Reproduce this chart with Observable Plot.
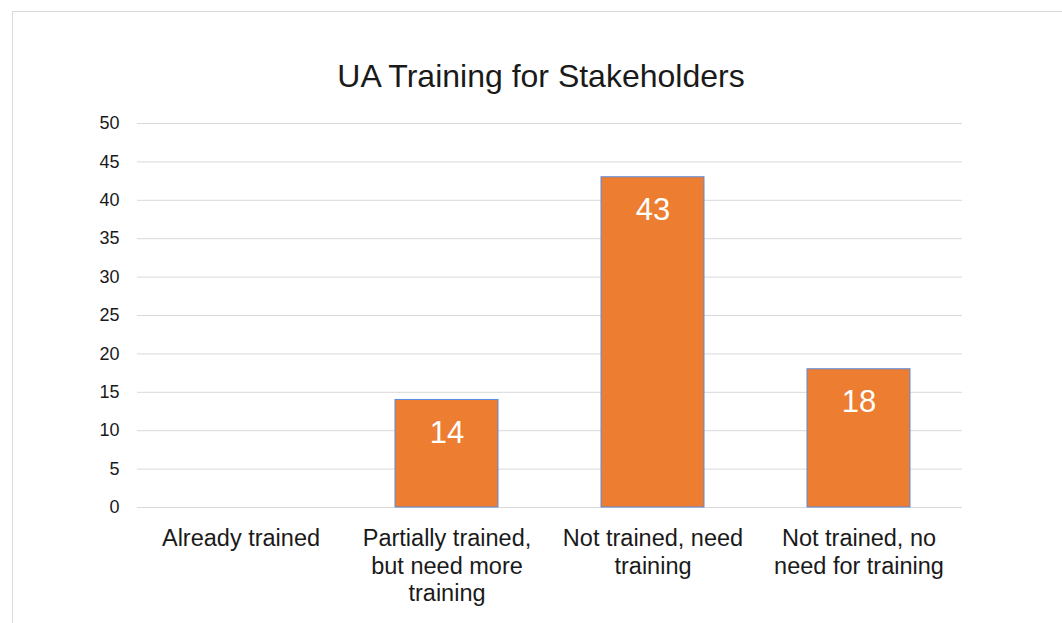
<!DOCTYPE html>
<html>
<head>
<meta charset="utf-8">
<script src="https://cdn.jsdelivr.net/npm/d3@7"></script>
<script src="https://cdn.jsdelivr.net/npm/@observablehq/plot@0.6"></script>
<style>
  html, body { margin: 0; padding: 0; background: #fff; overflow: hidden; }
  body { width: 1062px; height: 623px; position: relative; font-family: "Liberation Sans", Arial, sans-serif; }
  #frame { position: absolute; left: 12px; top: 11px; width: 1100px; height: 700px; border: 1px solid #d9d9d9; box-sizing: border-box; }
  #title { position: absolute; left: 0; width: 1082px; top: 58px; text-align: center; font-size: 32px; line-height: 1.15; color: #1a1a1a; }
  #chart { position: absolute; left: 0; top: 0; }
</style>
</head>
<body>
<div id="frame"></div>
<div id="title">UA Training for Stakeholders</div>
<div id="chart"></div>
<script>
const title = "UA Training for Stakeholders";
const categories = ["Already trained", "Partially trained", "Not trained, need training", "Not trained, no need"];
const tickLabels = ["Already trained", "Partially trained,\nbut need more\ntraining", "Not trained, need\ntraining", "Not trained, no\nneed for training"];
const values = [0, 14, 43, 18];
const yTicks = [0, 5, 10, 15, 20, 25, 30, 35, 40, 45, 50];

document.getElementById("title").textContent = title;
const data = categories.map((c, i) => ({category: c, value: values[i]}));
const labelMap = new Map(categories.map((c, i) => [c, tickLabels[i]]));

const chart = Plot.plot({
  width: 1062,
  height: 623,
  marginLeft: 137,
  marginRight: 100,
  marginTop: 123,
  marginBottom: 116,
  style: {fontFamily: "'Liberation Sans', Arial, sans-serif", background: "transparent", color: "#1a1a1a"},
  x: {domain: categories, paddingInner: 0.5, paddingOuter: 0.25},
  y: {domain: [0, 50]},
  marks: [
    Plot.gridY(yTicks, {stroke: "#d9d9d9", strokeOpacity: 1, strokeWidth: 1}),
    Plot.axisY({ticks: yTicks, tickSize: 0, tickPadding: 18, fontSize: 18, label: null, fill: "#1a1a1a"}),
    Plot.axisX({tickSize: 0, tickPadding: 19, fontSize: 23.5, label: null, lineHeight: 1.17, lineAnchor: "top",
      tickFormat: d => labelMap.get(d), fill: "#1a1a1a"}),
    Plot.barY(data.filter(d => d.value > 0), {x: "category", y: "value", fill: "#ED7D31", stroke: "#5B8BE0", strokeWidth: 1}),
    Plot.text(data.filter(d => d.value > 0), {x: "category", y: "value", text: d => String(d.value), dy: 33, fill: "white", fontSize: 31})
  ]
});
document.getElementById("chart").appendChild(chart);
</script>
</body>
</html>
